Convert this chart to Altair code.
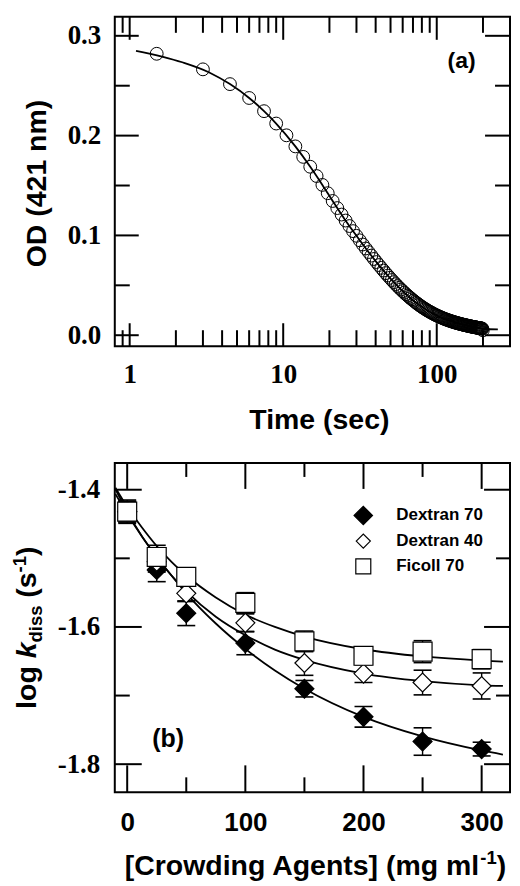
import altair as alt
import pandas as pd

# ---------------- panel (a): OD(421 nm) vs time ----------------
time_s = [
    1.5, 3.0, 4.5, 6.0, 7.5, 9.0, 10.5, 12.0, 13.5, 15.0,
    16.5, 18.0, 19.5, 21.0, 22.5, 24.0, 25.5, 27.0, 28.5, 30.0,
    31.5, 33.0, 34.5, 36.0, 37.5, 39.0, 40.5, 42.0, 43.5, 45.0,
    46.5, 48.0, 49.5, 51.0, 52.5, 54.0, 55.5, 57.0, 58.5, 60.0,
    61.5, 63.0, 64.5, 66.0, 67.5, 69.0, 70.5, 72.0, 73.5, 75.0,
    76.5, 78.0, 79.5, 81.0, 82.5, 84.0, 85.5, 87.0, 88.5, 90.0,
    91.5, 93.0, 94.5, 96.0, 97.5, 99.0, 100.5, 102.0, 103.5, 105.0,
    106.5, 108.0, 109.5, 111.0, 112.5, 114.0, 115.5, 117.0, 118.5, 120.0,
    121.5, 123.0, 124.5, 126.0, 127.5, 129.0, 130.5, 132.0, 133.5, 135.0,
    136.5, 138.0, 139.5, 141.0, 142.5, 144.0, 145.5, 147.0, 148.5, 150.0,
    151.5, 153.0, 154.5, 156.0, 157.5, 159.0, 160.5, 162.0, 163.5, 165.0,
    166.5, 168.0, 169.5, 171.0, 172.5, 174.0, 175.5, 177.0, 178.5, 180.0,
    181.5, 183.0, 184.5, 186.0, 187.5, 189.0, 190.5, 192.0, 193.5, 195.0,
    196.5, 198.0, 199.5,
]
od_421 = [
    0.2820, 0.2664, 0.2516, 0.2377, 0.2245, 0.2121, 0.2003, 0.1892, 0.1787, 0.1688,
    0.1595, 0.1506, 0.1423, 0.1345, 0.1274, 0.1209, 0.1149, 0.1094, 0.1043, 0.0996,
    0.0951, 0.0909, 0.0869, 0.0833, 0.0798, 0.0764, 0.0733, 0.0703, 0.0675, 0.0648,
    0.0622, 0.0598, 0.0575, 0.0553, 0.0532, 0.0512, 0.0493, 0.0475, 0.0458, 0.0442,
    0.0426, 0.0411, 0.0397, 0.0384, 0.0371, 0.0359, 0.0347, 0.0336, 0.0325, 0.0315,
    0.0305, 0.0296, 0.0287, 0.0278, 0.0270, 0.0263, 0.0255, 0.0248, 0.0241, 0.0235,
    0.0229, 0.0223, 0.0217, 0.0211, 0.0206, 0.0201, 0.0196, 0.0192, 0.0187, 0.0183,
    0.0179, 0.0175, 0.0171, 0.0167, 0.0164, 0.0160, 0.0157, 0.0154, 0.0151, 0.0148,
    0.0145, 0.0142, 0.0140, 0.0137, 0.0134, 0.0132, 0.0130, 0.0127, 0.0125, 0.0123,
    0.0121, 0.0119, 0.0117, 0.0115, 0.0113, 0.0111, 0.0109, 0.0108, 0.0106, 0.0104,
    0.0103, 0.0101, 0.0100, 0.0098, 0.0097, 0.0095, 0.0094, 0.0092, 0.0091, 0.0090,
    0.0088, 0.0087, 0.0086, 0.0085, 0.0083, 0.0082, 0.0081, 0.0080, 0.0079, 0.0078,
    0.0077, 0.0076, 0.0075, 0.0074, 0.0073, 0.0072, 0.0071, 0.0070, 0.0069, 0.0068,
    0.0067, 0.0066, 0.0050,
]
fit_time = [1.1, 2.2, 3.3, 4.5, 6, 7.5, 9, 12, 15, 18, 21, 25, 30, 35, 40,
            50, 60, 70, 80, 90, 100, 120, 140, 160, 180, 200, 250]
fit_od = [0.2850, 0.2735, 0.2633, 0.2516, 0.2377, 0.2245, 0.2121, 0.1892, 0.1688,
          0.1506, 0.1345, 0.1167, 0.0996, 0.0857, 0.0743, 0.0567, 0.0442, 0.0351,
          0.0284, 0.0235, 0.0198, 0.0148, 0.0116, 0.0094, 0.0078, 0.0065, 0.0058]

a_x_major = [1, 10, 100]
a_x_minor = [0.9, 2, 3, 4, 5, 6, 7, 8, 9, 20, 30, 40, 50, 60, 70, 80, 90, 200]
a_y_major = [0.0, 0.1, 0.2, 0.3]
a_y_minor = [0.05, 0.15, 0.25]
a_label = ["(a)"]
a_label_t = [145]
a_label_od = [0.275]

# ---------------- panel (b): log k_diss vs crowding agent ----------------
series_names = ["Dextran 70", "Dextran 40", "Ficoll 70"]
conc = [0, 25, 50, 100, 150, 200, 250, 300]
dex70 = [-1.432, -1.517, -1.580, -1.6235, -1.690, -1.731, -1.767, -1.778]
dex40 = [-1.432, -1.505, -1.551, -1.594, -1.6525, -1.668, -1.681, -1.686]
ficoll70 = [-1.432, -1.498, -1.527, -1.565, -1.621, -1.642, -1.636, -1.647]
err70 = [0.015, 0.017, 0.018, 0.017, 0.012, 0.015, 0.020, 0.010]
err40 = [0.015, 0.015, 0.012, 0.013, 0.018, 0.013, 0.018, 0.019]
errF = [0.017, 0.017, 0.013, 0.015, 0.015, 0.011, 0.016, 0.014]

fit_conc = [-10, 0, 12.5, 25, 37.5, 50, 75, 100, 125, 150, 200, 250, 300, 318]
fit70 = [-1.406, -1.435, -1.468, -1.498, -1.525, -1.551, -1.595, -1.632, -1.6635,
         -1.690, -1.731, -1.7595, -1.780, -1.786]
fit40 = [-1.399, -1.432, -1.468, -1.498, -1.525, -1.548, -1.585, -1.612, -1.633,
         -1.648, -1.668, -1.679, -1.685, -1.686]
fitF = [-1.397, -1.425, -1.455, -1.482, -1.505, -1.525, -1.557, -1.582, -1.600,
        -1.614, -1.6325, -1.643, -1.649, -1.6505]

b_x_major = [0, 100, 200, 300]
b_x_minor = [50, 150, 250]
b_y_major = [-1.4, -1.6, -1.8]
b_y_minor = [-1.5, -1.7]
b_label = ["(b)"]
b_label_c = [34.6]
b_label_v = [-1.763]

# ---------------- build tables ----------------
df_a = pd.DataFrame({"t": time_s, "od": od_421})
df_afit = pd.DataFrame({"t": fit_time, "od": fit_od})

rows = []
for name, vals, errs in zip(series_names, [dex70, dex40, ficoll70], [err70, err40, errF]):
    for c, v, e in zip(conc, vals, errs):
        rows.append({"series": name, "c": c, "v": v, "lo": v - e, "hi": v + e})
df_b = pd.DataFrame(rows)

frows = []
for name, vals in zip(series_names, [fit70, fit40, fitF]):
    for c, v in zip(fit_conc, vals):
        frows.append({"series": name, "c": c, "v": v})
df_bfit = pd.DataFrame(frows)

SERIF = "Liberation Serif"
SANS = "Liberation Sans"
W, H = 396, 330

# ---------------- helpers ----------------
def vticks(values, enc, length, top):
    d = pd.DataFrame({enc.shorthand.split(":")[0]: values})
    m = alt.Chart(d).mark_rule(color="black", strokeWidth=2)
    if top:
        return m.encode(x=enc, y=alt.value(0), y2=alt.value(length))
    return m.encode(x=enc, y=alt.value(H), y2=alt.value(H - length))


def hticks(values, enc, length, right):
    d = pd.DataFrame({enc.shorthand.split(":")[0]: values})
    m = alt.Chart(d).mark_rule(color="black", strokeWidth=2)
    if right:
        return m.encode(y=enc, x=alt.value(W), x2=alt.value(W - length))
    return m.encode(y=enc, x=alt.value(0), x2=alt.value(length))


def piece(txt, x, y, size, angle=0, italic=False, align="left"):
    kw = dict(font=SANS, fontWeight="bold", fontSize=size, color="black", align=align,
              baseline="alphabetic")
    if angle:
        kw["angle"] = angle
    if italic:
        kw["fontStyle"] = "italic"
    return alt.Chart(pd.DataFrame({"txt": [txt]})).mark_text(**kw).encode(
        x=alt.value(x), y=alt.value(y), text="txt:N")


# ---------------- panel (a) ----------------
xa_scale = alt.Scale(type="log", domain=[0.8, 300], nice=False)
ya_scale = alt.Scale(domain=[-0.011, 0.319], nice=False, zero=False)
xa_axis = alt.Axis(values=a_x_major, format="d", title=None, grid=False, domain=False,
                   ticks=False, tickSize=0, labelFont=SERIF, labelFontWeight="bold",
                   labelFontSize=27, labelColor="black", labelPadding=15)
ya_axis = alt.Axis(values=a_y_major, format=".1f", title=None, grid=False, domain=False,
                   ticks=False, tickSize=0, labelFont=SERIF, labelFontWeight="bold",
                   labelFontSize=27, labelColor="black", labelPadding=14)
XA = alt.X("t:Q", scale=xa_scale, axis=xa_axis)
YA = alt.Y("od:Q", scale=ya_scale, axis=ya_axis)

a_fit = alt.Chart(df_afit).mark_line(color="black", strokeWidth=1.8,
                                     interpolate="monotone").encode(x=XA, y=YA)
a_pts = alt.Chart(df_a).mark_point(shape="circle", size=165, filled=False,
                                   color="black", strokeWidth=1.0, opacity=1).encode(x=XA, y=YA)
a_lab = alt.Chart(pd.DataFrame({"t": a_label_t, "od": a_label_od, "txt": a_label})).mark_text(
    font=SANS, fontWeight="bold", fontSize=23, color="black", align="center",
    baseline="middle").encode(x=XA, y=YA, text="txt:N")
a_xtitle = piece("Time (sec)", 205, H + 83, 28.5, align="center")
a_ytitle = piece("OD (421 nm)", -69, H / 2 + 2, 28.5, angle=270, align="center")

panel_a = alt.layer(
    a_fit, a_pts,
    vticks(a_x_major, XA, 23, False), vticks(a_x_minor, XA, 16, False),
    vticks(a_x_major, XA, 23, True), vticks(a_x_minor, XA, 16, True),
    hticks(a_y_major, YA, 24, False), hticks(a_y_minor, YA, 15, False),
    hticks(a_y_major, YA, 25, True), hticks(a_y_minor, YA, 15, True),
    a_lab, a_xtitle, a_ytitle,
).properties(width=W, height=H)

# ---------------- panel (b) ----------------
xb_scale = alt.Scale(domain=[-10.5, 324], nice=False, zero=False)
yb_scale = alt.Scale(domain=[-1.841, -1.361], nice=False, zero=False)
xb_axis = alt.Axis(values=b_x_major, format="d", title=None, grid=False, domain=False,
                   ticks=False, tickSize=0, labelFont=SANS, labelFontWeight="bold",
                   labelFontSize=26, labelColor="black", labelPadding=17)
yb_axis = alt.Axis(values=b_y_major, labelExpr="'-' + format(abs(datum.value), '.1f')",
                   title=None, grid=False, domain=False, ticks=False, tickSize=0,
                   labelFont=SERIF, labelFontWeight="bold", labelFontSize=27,
                   labelColor="black", labelPadding=15)
XB = alt.X("c:Q", scale=xb_scale, axis=xb_axis)
YB = alt.Y("v:Q", scale=yb_scale, axis=yb_axis)
YLO = alt.Y("lo:Q", scale=yb_scale, axis=yb_axis)
YHI = alt.Y("hi:Q", scale=yb_scale, axis=yb_axis)

shape_sc = alt.Scale(domain=series_names, range=["diamond", "diamond", "square"])
fill_sc = alt.Scale(domain=series_names, range=["black", "white", "white"])
size_sc = alt.Scale(domain=series_names, range=[361, 361, 225])

b_fit = alt.Chart(df_bfit).mark_line(color="black", strokeWidth=1.8,
                                     interpolate="monotone").encode(
    x=XB, y=YB, detail="series:N")
b_err = alt.Chart(df_b).mark_rule(color="black", strokeWidth=1.4).encode(
    x=XB, y=YLO, y2=alt.Y2("hi:Q"))
b_cap_lo = alt.Chart(df_b).mark_tick(orient="horizontal", size=18, thickness=1.6,
                                     color="black", opacity=1).encode(x=XB, y=YLO)
b_cap_hi = alt.Chart(df_b).mark_tick(orient="horizontal", size=18, thickness=1.6,
                                     color="black", opacity=1).encode(x=XB, y=YHI)
b_pts = alt.Chart(df_b).mark_point(filled=True, stroke="black", strokeWidth=1.2,
                                   opacity=1).encode(
    x=XB, y=YB,
    shape=alt.Shape("series:N", scale=shape_sc, legend=None),
    fill=alt.Fill("series:N", scale=fill_sc, legend=None),
    size=alt.Size("series:N", scale=size_sc, legend=None),
)
b_lab = alt.Chart(pd.DataFrame({"c": b_label_c, "v": b_label_v, "txt": b_label})).mark_text(
    font=SANS, fontWeight="bold", fontSize=25, color="black", align="center",
    baseline="middle").encode(x=XB, y=YB, text="txt:N")

# legend (drawn inside the plot, top right)
LEG_SYM_X, LEG_TXT_X = 249, 282
LEG_Y = [52.6, 78.3, 103.6]
LEG_SIZE = [340, 200, 225]
legend_layers = []
for i, name in enumerate(series_names):
    d = pd.DataFrame({"series": [name]})
    legend_layers.append(
        alt.Chart(d).mark_point(filled=True, stroke="black", strokeWidth=1.2, opacity=1,
                                size=LEG_SIZE[i]).encode(
            x=alt.value(LEG_SYM_X), y=alt.value(LEG_Y[i]),
            shape=alt.Shape("series:N", scale=shape_sc, legend=None),
            fill=alt.Fill("series:N", scale=fill_sc, legend=None))
    )
    legend_layers.append(
        alt.Chart(d).mark_text(font=SANS, fontWeight="bold", fontSize=17, color="black",
                               align="left", baseline="middle").encode(
            x=alt.value(LEG_TXT_X), y=alt.value(LEG_Y[i]), text="series:N")
    )

# y title: log k_diss (s^-1), rotated
BX = -79
yt = [
    piece("log", BX, 246.4, 28.5, 270),
    piece("k", BX, 195.7, 28.5, 270, italic=True),
    piece("diss", BX + 6, 179.9, 18.5, 270),
    piece("(s", BX, 135.0, 28.5, 270),
    piece("-1", BX - 10, 109.7, 18.5, 270),
    piece(")", BX, 93.2, 28.5, 270),
]
# x title: [Crowding Agents] (mg ml^-1)
XT0 = 10
XY = H + 83
xt = [
    piece("[Crowding Agents] (mg ml", XT0, XY, 28.5),
    piece("-1", XT0 + 356.3, XY - 11, 18.5),
    piece(")", XT0 + 372.7, XY, 28.5),
]

panel_b = alt.layer(
    b_fit, b_err, b_cap_lo, b_cap_hi, b_pts,
    vticks(b_x_major, XB, 27, False), vticks(b_x_minor, XB, 15, False),
    vticks(b_x_major, XB, 26, True), vticks(b_x_minor, XB, 14, True),
    hticks(b_y_major, YB, 27, False), hticks(b_y_minor, YB, 15, False),
    hticks(b_y_major, YB, 26, True), hticks(b_y_minor, YB, 14, True),
    b_lab, *legend_layers, *yt, *xt,
).properties(width=W, height=H)

chart = alt.vconcat(panel_a, panel_b, spacing=25).configure_view(
    stroke="black", strokeWidth=2
).properties(padding={"left": 2, "top": 6, "right": 0, "bottom": 0})

chart.save("out.html", embed_options={"renderer": "svg", "actions": False})
